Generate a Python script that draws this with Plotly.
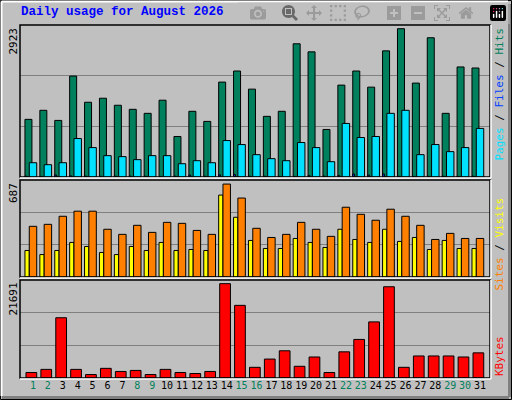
import plotly.graph_objects as go

days = list(range(1, 32))
hits = [1110,1284,1090,1942,1439,1516,1381,1303,1226,1478,781,1265,1071,1826,2039,1691,
        1168,1265,2562,2407,916,1768,2039,1729,2426,2852,1807,2678,1226,2117,2097]
files = [277,239,277,742,568,413,394,336,413,413,258,316,277,703,626,432,
         355,316,665,568,297,1032,761,781,1226,1284,432,626,490,568,936]
pages = [20,15,40,25,20,18,20,22,18,15,20,40,18,45,50,20,
         20,15,15,30,20,30,60,40,60,20,15,18,20,15,20]
visits = [359,373,430,466,466,338,302,366,316,387,380,330,302,658,559,345,
          280,302,387,338,288,494,444,402,480,430,366,266,309,273,273]
sites = [188,159,188,245,216,174,159,216,188,245,188,195,188,580,423,259,
         202,202,273,245,209,338,266,245,338,252,280,195,259,202,202]
kbytes = [1218,1903,13318,1903,761,2131,1446,1674,761,1903,1218,989,1446,20852,16058,2359,
          4186,6012,2587,4642,1218,5784,8524,12405,20168,2359,4871,4871,4871,4642,5556]
max_hits, max_visits, max_kb = 2923, 687, 21691
weekend = {1,2,8,9,15,16,22,23,29,30}
tick_labels = [f"<span style='color:#00805c'>{d}</span>" if d in weekend else str(d) for d in days]

C_HITS, C_FILES, C_PAGES = "#00805c", "#00e0ff", "#0040ff"
C_SITES, C_VISITS, C_KB = "#ffff00", "#ff8000", "#ff0000"
line = dict(color="black", width=1)

fig = go.Figure()
def bar(y, color, off, w, ax):
    fig.add_trace(go.Bar(x=days, y=y, offset=off, width=w, marker=dict(color=color, line=line),
                         xaxis="x", yaxis=ax, showlegend=False))
bar(hits, C_HITS, -0.54, 0.47, "y3")
bar(files, C_FILES, -0.25, 0.5, "y3")
bar(pages, C_PAGES, -0.54, 0.12, "y3")
bar(sites, C_SITES, -0.54, 0.29, "y2")
bar(visits, C_VISITS, -0.25, 0.5, "y2")
bar(kbytes, C_KB, -0.47, 0.72, "y")

def yax(mx, dom):
    return dict(range=[0, mx], domain=dom, tickvals=[mx/3, 2*mx/3], showticklabels=False,
                showgrid=True, gridcolor="#808080", gridwidth=1, zeroline=False, fixedrange=True)

fig.update_layout(
    width=512, height=400, margin=dict(l=20, r=22, t=25, b=22),
    paper_bgcolor="#c0c0c0", plot_bgcolor="#c0c0c0", barmode="overlay",
    xaxis=dict(range=[0.128, 31.67], tickvals=days, ticktext=tick_labels, showgrid=False,
               ticks="", tickangle=0, automargin=False,
               tickfont=dict(family="DejaVu Sans Mono", size=10, color="black"),
               anchor="y", zeroline=False),
    yaxis=yax(max_kb, [0, 0.278]),
    yaxis2=yax(max_visits, [0.286, 0.561]),
    yaxis3=yax(max_hits, [0.569, 1]),
    font=dict(family="DejaVu Sans Mono", size=11),
)

def fx(px): return (px - 20) / 470
def fy(py): return (378 - py) / 353
shapes = []
shapes.append(dict(type="rect", xref="paper", yref="paper", x0=fx(0.5), x1=fx(511.5), y0=fy(399.5), y1=fy(0.5),
                   line=dict(color="black", width=1)))
shapes.append(dict(type="line", xref="paper", yref="paper", x0=fx(2), x1=fx(509), y0=fy(397.5), y1=fy(397.5),
                   line=dict(color="#808080", width=3)))
shapes.append(dict(type="line", xref="paper", yref="paper", x0=fx(509.5), x1=fx(509.5), y0=fy(397), y1=fy(4),
                   line=dict(color="#808080", width=3)))
shapes.append(dict(type="line", xref="paper", yref="paper", x0=fx(1.5), x1=fx(508), y0=fy(1.5), y1=fy(1.5),
                   line=dict(color="white", width=2)))
shapes.append(dict(type="line", xref="paper", yref="paper", x0=fx(1.5), x1=fx(1.5), y0=fy(1.5), y1=fy(396),
                   line=dict(color="white", width=2)))
for (t, b) in [(25, 177), (180, 277), (280, 378)]:
    shapes.append(dict(type="rect", xref="paper", yref="paper", x0=0, x1=1, y0=fy(b), y1=fy(t),
                       line=dict(color="black", width=1.5)))
    shapes.append(dict(type="line", xref="paper", yref="paper", x0=fx(491), x1=fx(491), y0=fy(b+1), y1=fy(t),
                       line=dict(color="white", width=1.5)))
    shapes.append(dict(type="line", xref="paper", yref="paper", x0=0, x1=fx(491), y0=fy(b+1), y1=fy(b+1),
                       line=dict(color="white", width=1.5)))
fig.update_layout(shapes=shapes)

ann = [
    dict(text="<b>Daily usage for August 2026</b>", x=fx(19), y=fy(12), xanchor="left", yanchor="middle",
         font=dict(family="Liberation Mono", size=12.5, color="#0000ff")),
    dict(text="2923", x=fx(13), y=fy(26), textangle=-90, xanchor="center", yanchor="top"),
    dict(text="687", x=fx(13), y=fy(181), textangle=-90, xanchor="center", yanchor="top"),
    dict(text="21691", x=fx(13), y=fy(281), textangle=-90, xanchor="center", yanchor="top"),
    dict(text=f"<span style='color:{C_FILES}'>Pages</span> / <span style='color:{C_PAGES}'>Files</span> / <span style='color:{C_HITS}'>Hits</span>",
         x=fx(499), y=fy(26), textangle=-90, xanchor="center", yanchor="top"),
    dict(text=f"<span style='color:{C_VISITS}'>Sites</span> / <span style='color:{C_SITES}'>Visits</span>",
         x=fx(499), y=fy(196), textangle=-90, xanchor="center", yanchor="top"),
    dict(text=f"<span style='color:{C_KB}'>KBytes</span>",
         x=fx(499), y=fy(334), textangle=-90, xanchor="center", yanchor="top"),
]
for a in ann:
    a.update(xref="paper", yref="paper", showarrow=False)
    a.setdefault("font", dict(family="DejaVu Sans Mono", size=11, color="black"))
fig.update_layout(annotations=ann)
fig.write_html("out.html", post_script="document.body.style.margin='0';document.body.style.overflow='hidden';")
